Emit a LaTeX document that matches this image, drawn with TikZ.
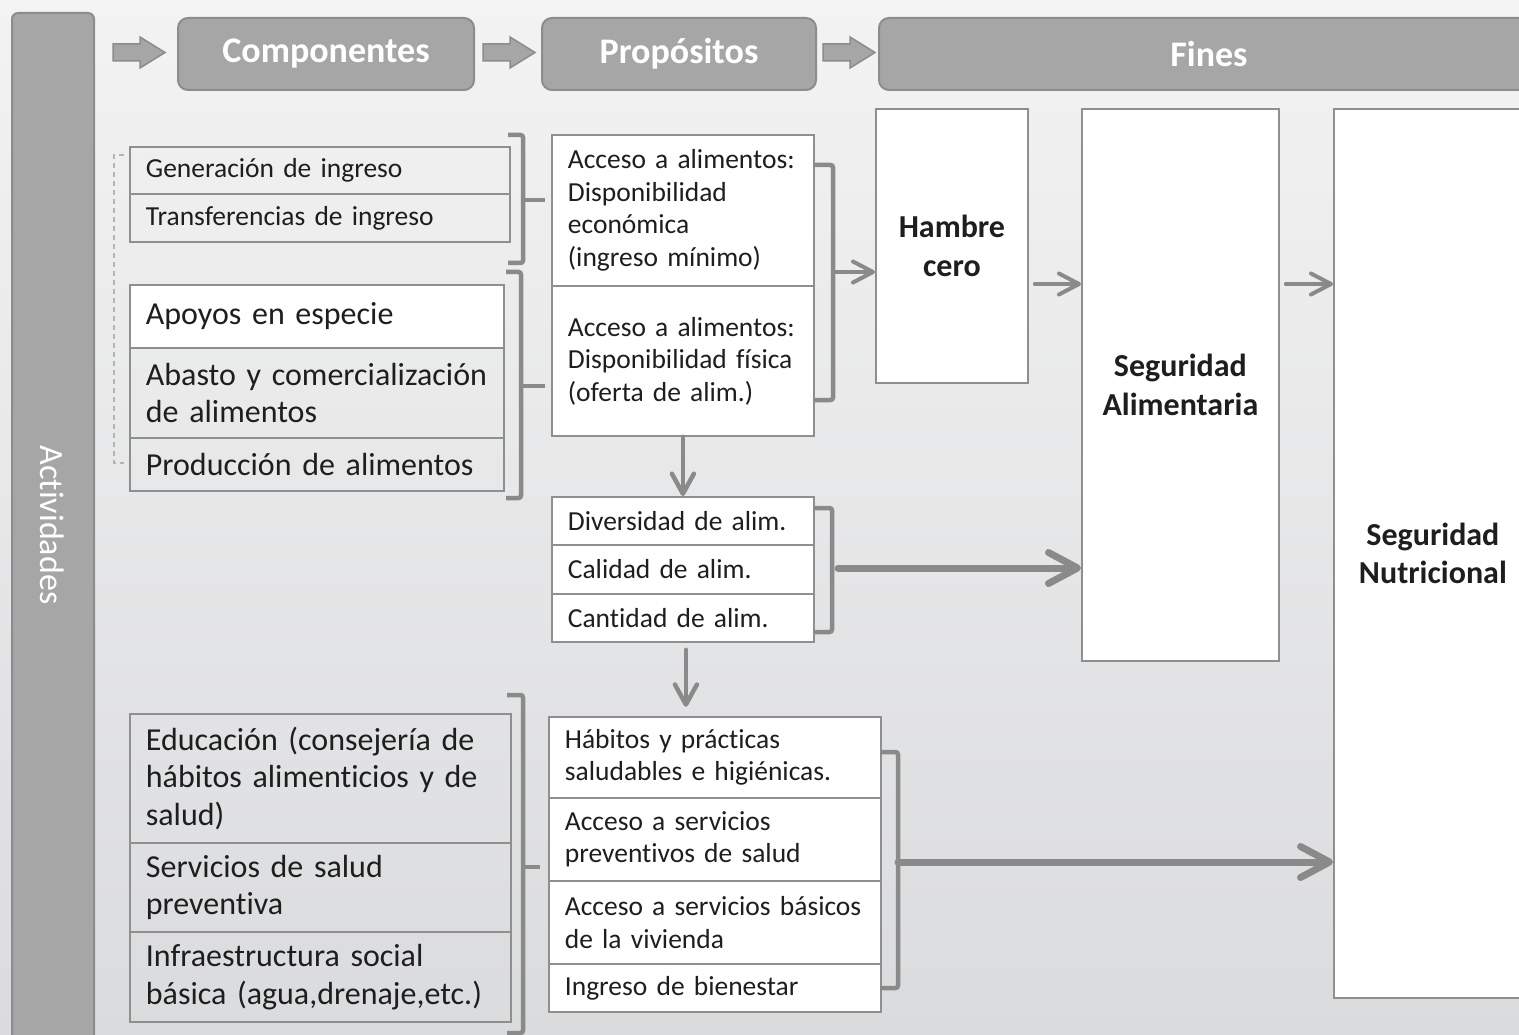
\documentclass[tikz,border=0pt]{standalone}
\usepackage{fontspec}
\setmainfont{Carlito}[Ligatures={NoCommon}]
\usetikzlibrary{arrows.meta,calc}
\definecolor{bgtop}{HTML}{F3F3F3}
\definecolor{bgbot}{HTML}{DADBDD}
\definecolor{hdr}{HTML}{A6A6A6}
\definecolor{hdrline}{HTML}{8C8C8C}
\definecolor{boxline}{HTML}{8F8F8F}
\definecolor{arrowc}{HTML}{8A8A8A}
\definecolor{txt}{HTML}{1E1E1E}
\definecolor{dashc}{HTML}{B4B4B4}
\begin{document}
\begin{tikzpicture}[x=1pt,y=-1pt,
  cell/.style={draw=boxline, line width=1.8pt, rectangle, anchor=north west,
    inner xsep=16pt, inner ysep=0pt, align=left, text=txt,
    font=\fontsize{27.5}{32.5}\selectfont},
  bigtxt/.style={font=\fontsize{32}{37.5}\selectfont},
  wfill/.style={fill=white},
  fin/.style={draw=boxline, line width=1.8pt, fill=white, anchor=north west,
    inner sep=0pt, align=center, text=txt,
    font=\fontsize{32}{38.5}\selectfont\bfseries},
  hdrbox/.style={draw=hdrline, fill=hdr, line width=2pt, rounded corners=10pt,
    anchor=north west, inner sep=0pt, text=white,
    font=\fontsize{36}{40}\selectfont\bfseries},
  hdrarrow/.style={draw=hdrline, fill=hdr, line width=1.5pt, line join=miter},
  brk/.style={draw=arrowc, line width=4.5pt, rounded corners=2.5pt},
  arr/.style={draw=arrowc, line width=4pt, line cap=round,
    -{Straight Barb[round,length=20pt,width=21pt]}},
  darr/.style={draw=arrowc, line width=4.5pt, line cap=round,
    -{Straight Barb[round,length=20pt,width=22pt]}},
  bigarr/.style={draw=arrowc, line width=7pt, line cap=round,
    -{Straight Barb[round,length=29pt,width=31pt]}},
  ]
\useasboundingbox (0,0) rectangle (1519,1035);
\clip (0,0) rectangle (1519,1035);
\shade[top color=bgtop, bottom color=bgbot] (0,0) rectangle (1519,1035);

% left bar
\node (act) [draw=hdrline, fill=hdr, line width=2pt, rounded corners=6pt,
  anchor=north west, minimum width=82pt, minimum height=1060pt, inner sep=0pt] at (11,12) {};
\node (actlabel) [rotate=-90, text=white, font=\fontsize{34}{40}\selectfont] at (52,525) {Actividades};

% header
\foreach \xa in {113,483,823}{
  \draw[hdrarrow] (\xa,44) -- ({\xa+27},44) -- ({\xa+27},37) -- ({\xa+52},52.5)
    -- ({\xa+27},68) -- ({\xa+27},61) -- (\xa,61) -- cycle;
}
\node (comp) [hdrbox, minimum width=296pt, minimum height=72pt] at (177,17) {Componentes};
\node (prop) [hdrbox, minimum width=274pt, minimum height=72pt] at (541,17) {Propósitos};
\node (fines) [hdrbox, minimum width=660pt, minimum height=72pt] at (878,17) {Fines};

% dashed grouping line
\draw[dashc, dash pattern=on 5pt off 4pt, line width=1.3pt] (124,155) -- (114,155) -- (114,463) -- (124,463);

% left group 1
\node (gen) [cell, text width=348pt, minimum height=47pt] at (129,146) {\mbox{Generación de ingreso}};
\node (trans) [cell, text width=348pt, minimum height=48pt] at (129,193) {\mbox{Transferencias de ingreso}};
% left group 2
\node (apoyos) [cell, bigtxt, wfill, text width=342pt, minimum height=63pt] at (129,284) {\mbox{Apoyos en especie}};
\node (abasto) [cell, bigtxt, text width=342pt, minimum height=90pt] at (129,347) {\mbox{Abasto y comercialización}\\\mbox{de alimentos}};
\node (prod) [cell, bigtxt, text width=342pt, minimum height=53pt] at (129,437) {\mbox{Producción de alimentos}};
% left group 3
\node (educ) [cell, bigtxt, text width=349pt, minimum height=129pt] at (129,713) {\mbox{Educación (consejería de}\\\mbox{hábitos alimenticios y de}\\\mbox{salud)}};
\node (serv) [cell, bigtxt, text width=349pt, minimum height=89pt] at (129,842) {\mbox{Servicios de salud}\\\mbox{preventiva}};
\node (infra) [cell, bigtxt, text width=349pt, minimum height=90pt] at (129,931) {\mbox{Infraestructura social}\\\mbox{básica (agua,drenaje,etc.)}};

% proposito column
\node (propA) [cell, wfill, text width=230pt, minimum height=151pt] at (551,134) {\mbox{Acceso a alimentos:}\\\mbox{Disponibilidad}\\\mbox{económica}\\\mbox{(ingreso mínimo)}};
\node (propB) [cell, wfill, text width=230pt, minimum height=150pt] at (551,285) {\mbox{Acceso a alimentos:}\\\mbox{Disponibilidad física}\\\mbox{(oferta de alim.)}};
\node (div) [cell, wfill, text width=230pt, minimum height=48pt] at (551,496) {\mbox{Diversidad de alim.}};
\node (cal) [cell, wfill, text width=230pt, minimum height=49pt] at (551,544) {\mbox{Calidad de alim.}};
\node (cant) [cell, wfill, text width=230pt, minimum height=48pt] at (551,593) {\mbox{Cantidad de alim.}};
\node (hab) [cell, wfill, text width=300pt, minimum height=81pt] at (548,716) {\mbox{Hábitos y prácticas}\\\mbox{saludables e higiénicas.}};
\node (accprev) [cell, wfill, text width=300pt, minimum height=83pt] at (548,797) {\mbox{Acceso a servicios}\\\mbox{preventivos de salud}};
\node (accbas) [cell, wfill, text width=300pt, minimum height=83pt] at (548,880) {\mbox{Acceso a servicios básicos}\\\mbox{de la vivienda}};
\node (ingb) [cell, wfill, text width=300pt, minimum height=48pt] at (548,963) {\mbox{Ingreso de bienestar}};

% fines column
\node (hambre) [fin, minimum width=152pt, minimum height=274pt] at (875,108) {Hambre\\cero};
\node (segA) [fin, minimum width=197pt, minimum height=552pt] at (1081,108) {Seguridad\\Alimentaria};
\node (segN) [fin, minimum width=198pt, minimum height=889pt] at (1333,108) {Seguridad\\Nutricional};

% brackets
\draw[brk] (508,135) -- (523,135) -- (523,263) -- (508,263);
\draw[brk] (523,200) -- (545,200);
\draw[brk] (506,272) -- (521,272) -- (521,498) -- (506,498);
\draw[brk] (521,386) -- (545,386);
\draw[brk] (507,695) -- (523,695) -- (523,1033) -- (507,1033);
\draw[brk] (523,867) -- (540,867);
\draw[brk] (813,165) -- (833,165) -- (833,400) -- (813,400);
\draw[brk] (813,508) -- (832,508) -- (832,632) -- (813,632);
\draw[brk] (880,752) -- (898,752) -- (898,988) -- (880,988);

% connectors
\coordinate (bAo) at (833,272);
\coordinate (bCo) at (838,568);
\coordinate (bDo) at (898,862);
\coordinate (y284) at (0,284);
\draw[arr] (bAo) -- (hambre.west |- bAo);
\draw[arr] ($(hambre.east |- y284)+(6,0)$) -- (segA.west |- y284);
\draw[arr] ($(segA.east |- y284)+(6,0)$) -- (segN.west |- y284);
\draw[bigarr] (bCo) -- (segA.west |- bCo);
\draw[bigarr] (bDo) -- (segN.west |- bDo);
\draw[darr] (propB.south) -- (div.north);
\draw[darr] ($(cant.south)+(3,7)$) -- ($(cant.south)+(3,64)$);
\end{tikzpicture}
\end{document}
